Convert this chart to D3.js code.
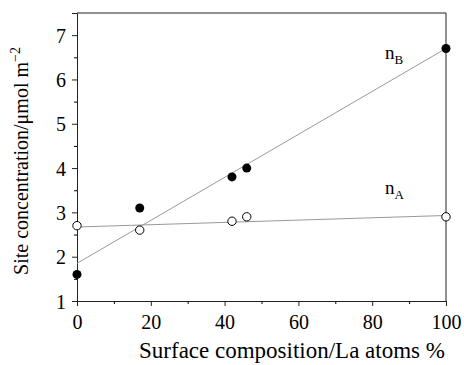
<!DOCTYPE html>
<html>
<head>
<meta charset="utf-8">
<script src="https://cdn.jsdelivr.net/npm/d3@7"></script>
<style>
  body { margin: 0; background: #fff; }
  svg text { font-family: "Liberation Serif", "Times New Roman", serif; }
</style>
</head>
<body>
<svg id="chart"></svg>
<script>
// values
const composition = [0, 17, 42, 46, 100];
const siteB = [1.6, 3.1, 3.8, 4.0, 6.7];   // filled circles, n_B
const siteA = [2.7, 2.6, 2.8, 2.9, 2.9];   // open circles, n_A
// fitted straight lines (end points as drawn)
const fitB = [[0, 1.85], [100, 6.7]];
const fitA = [[0, 2.67], [100, 2.93]];
const xTicks = [0, 20, 40, 60, 80, 100];
const yTicks = [1, 2, 3, 4, 5, 6, 7];

const W = 464, H = 365;
const margin = { top: 13, right: 18, bottom: 64, left: 77 };
const width = W - margin.left - margin.right;
const height = H - margin.top - margin.bottom;

const svg = d3.select("#chart").attr("width", W).attr("height", H);
const chart = svg.append("g").attr("transform", `translate(${margin.left},${margin.top})`);

const x = d3.scaleLinear().domain([0, 100]).range([0, width]);
const y = d3.scaleLinear().domain([1, 7.5]).range([height, 0]);

// minor ticks
chart.append("g")
  .attr("transform", `translate(0,${height})`)
  .call(d3.axisBottom(x).tickValues(d3.range(10, 100, 20)).tickSize(3).tickFormat(""))
  .call(g => g.select(".domain").remove());
chart.append("g")
  .call(d3.axisLeft(y).tickValues(d3.range(1.5, 7.5, 1)).tickSize(3).tickFormat(""))
  .call(g => g.select(".domain").remove());

// major axes
const xAxis = chart.append("g")
  .attr("transform", `translate(0,${height})`)
  .call(d3.axisBottom(x).tickValues(xTicks).tickSize(5).tickPadding(6).tickFormat(d3.format("d")));
const yAxis = chart.append("g")
  .call(d3.axisLeft(y).tickValues(yTicks).tickSize(5).tickPadding(6).tickFormat(d3.format("d")));

[xAxis, yAxis].forEach(g => {
  g.attr("font-family", "Liberation Serif, serif").attr("font-size", 20);
  g.selectAll("text").attr("fill", "#000");
  g.selectAll("line").attr("stroke", "#222");
  g.select(".domain").attr("stroke", "#222");
});
xAxis.selectAll("text").attr("dy", "0.85em");
yAxis.selectAll("text").attr("dy", "0.35em");

// frame top and right
chart.append("line").attr("x1", 0).attr("x2", width).attr("y1", 0).attr("y2", 0)
  .attr("stroke", "#222");
chart.append("line").attr("x1", width).attr("x2", width).attr("y1", 0).attr("y2", height)
  .attr("stroke", "#222");

// fit lines
const line = d3.line().x(d => x(d[0])).y(d => y(d[1]));
chart.append("path").datum(fitB).attr("d", line)
  .attr("fill", "none").attr("stroke", "#999").attr("stroke-width", 1);
chart.append("path").datum(fitA).attr("d", line)
  .attr("fill", "none").attr("stroke", "#999").attr("stroke-width", 1);

// points
chart.selectAll(".ptB")
  .data(composition.map((c, i) => [c, siteB[i]]))
  .join("circle")
    .attr("class", "ptB")
    .attr("cx", d => x(d[0])).attr("cy", d => y(d[1]))
    .attr("r", 4.5).attr("fill", "#000");
chart.selectAll(".ptA")
  .data(composition.map((c, i) => [c, siteA[i]]))
  .join("circle")
    .attr("class", "ptA")
    .attr("cx", d => x(d[0])).attr("cy", d => y(d[1]))
    .attr("r", 4.2).attr("fill", "#fff").attr("stroke", "#000").attr("stroke-width", 1);

// series labels
const lab = (xv, yv, sub) => {
  const t = chart.append("text")
    .attr("x", x(xv)).attr("y", y(yv))
    .style("font-size", "19px");
  t.append("tspan").text("n");
  t.append("tspan").attr("dy", 5).style("font-size", "13px").text(sub);
};
lab(83.5, 6.46, "B");
lab(83.5, 3.42, "A");

// axis titles
svg.append("text")
  .attr("x", 292).attr("y", 358)
  .attr("text-anchor", "middle")
  .style("font-size", "23px")
  .text("Surface composition/La atoms %");

const yl = svg.append("text")
  .attr("transform", "translate(28,161) rotate(-90)")
  .attr("text-anchor", "middle")
  .style("font-size", "20px");
yl.append("tspan").text("Site concentration/\u03bcmol m");
yl.append("tspan").attr("dy", -8).style("font-size", "14px").text("\u22122");
</script>
</body>
</html>
